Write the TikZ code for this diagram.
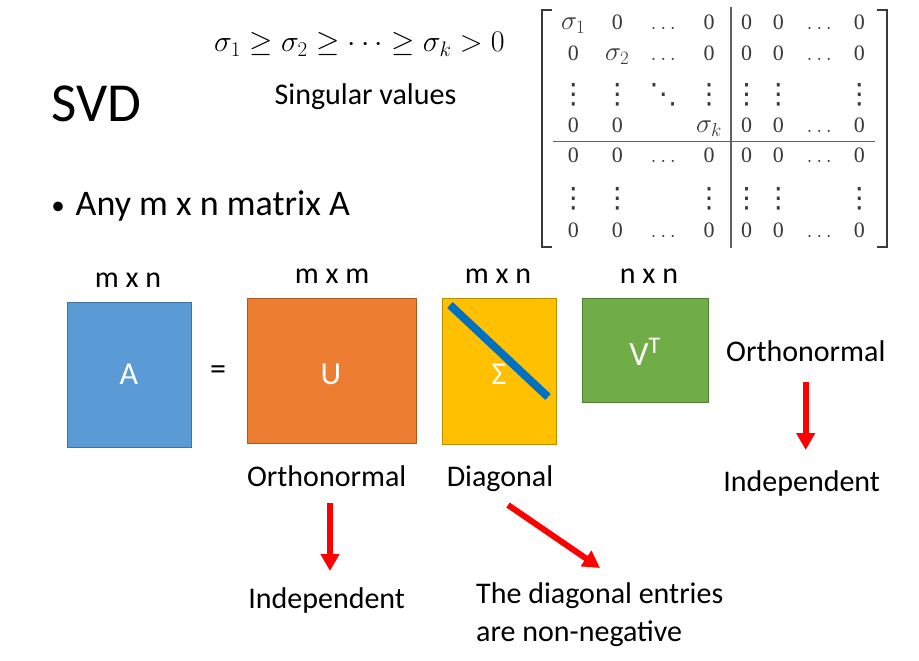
\RequirePackage{fix-cm}
\documentclass[tikz,border=0pt]{standalone}
\usepackage{fontspec}
\setmainfont{Carlito}
\newfontfamily\tms{Liberation Serif}
\newfontfamily\djv{DejaVu Sans}
\usetikzlibrary{arrows.meta}
\definecolor{aFill}{HTML}{5B9BD5}\definecolor{aDraw}{HTML}{41719C}
\definecolor{uFill}{HTML}{ED7D31}\definecolor{uDraw}{HTML}{AE5A21}
\definecolor{sFill}{HTML}{FFC000}\definecolor{sDraw}{HTML}{BC8C00}
\definecolor{vFill}{HTML}{70AD47}\definecolor{vDraw}{HTML}{507E32}
\definecolor{diagBlue}{HTML}{0070C0}
\definecolor{matGray}{HTML}{3A3A3A}
\newcommand\myvdots{{\djv\fontsize{28}{28}\selectfont ⋮}}
\newcommand\myddots{{\djv\fontsize{28}{28}\selectfont ⋱}}
\newcommand\sg[1]{{\fontsize{27}{27}\selectfont$\sigma_{#1}$}}
\newcommand\mrow[3]{%
  \foreach \e [count=\c] in {#3} {%
    \pgfmathsetmacro\xx{{573.3,617.3,663.3,709,746.7,778.3,819.3,859.3}[\c-1]}%
    \node[mat, anchor=base] (m#1-\c) at (\xx,#2) {\e};
  }}
\newcommand\vrow[3]{%
  \foreach \e [count=\c] in {#3} {%
    \pgfmathsetmacro\xx{{573.3,617.3,663.3,709,746.7,778.3,819.3,859.3}[\c-1]}%
    \node[mat, anchor=base] (m#1-\c) at (\xx,#2) {\e};
  }}
\begin{document}
\begin{tikzpicture}[x=1pt,y=-1pt,
  lbl/.style={font=\fontsize{30}{36}\selectfont, inner sep=0pt, anchor=base},
  mbox/.style={line width=1pt, inner sep=0pt},
  intext/.style={text=white, inner sep=0pt},
  redarrow/.style={draw=red, line width=6pt, -{Triangle[width=18pt,length=17pt]}},
  mat/.style={font=\tms\fontsize{22}{22}\selectfont, text=matGray, inner sep=0pt},
  bracket/.style={draw=matGray, line width=2pt},
  divider/.style={draw=matGray!80, line width=1.5pt}]
\fill[white] (0,0) rectangle (919,661);
\path[use as bounding box] (0,0) rectangle (919,661);

% title and bullet
\node[font=\fontsize{55}{60}\selectfont, inner sep=0pt, anchor=base west] (title) at (51.5,121.7) {SVD};
\node[font=\fontsize{27}{30}\selectfont, inner sep=0pt, anchor=base] (bullet) at (58,214) {•};
\node[font=\fontsize{36}{40}\selectfont, inner sep=0pt, anchor=base west] (anyA) at (75.5,215) {Any m x n matrix A};

% singular values
\node[font=\fontsize{30}{34}\selectfont, inner sep=0pt, anchor=base west] (ineq) at (214,52) {$\sigma_1\ge\sigma_2\ge\cdots\ge\sigma_k>0$};
\node[lbl] (singv) at (365.5,104) {Singular values};

% matrix
\mrow{1}{29.2}{\sg{1},0,$\ldots$,0,0,0,$\ldots$,0}
\mrow{2}{60.8}{0,\sg{2},$\ldots$,0,0,0,$\ldots$,0}
\vrow{3}{103}{\myvdots,\myvdots,\myddots,\myvdots,\myvdots,\myvdots,{},\myvdots}
\mrow{4}{132.5}{0,0,{},\sg{k},0,0,$\ldots$,0}
\mrow{5}{162.5}{0,0,$\ldots$,0,0,0,$\ldots$,0}
\vrow{6}{207}{\myvdots,\myvdots,{},\myvdots,\myvdots,\myvdots,{},\myvdots}
\mrow{7}{237.5}{0,0,$\ldots$,0,0,0,$\ldots$,0}
\coordinate (lbT) at (551.7,10);
\coordinate (lbB) at (551.7,246.7);
\coordinate (rbT) at (876.7,10);
\coordinate (rbB) at (876.7,246.7);
\draw[bracket] (lbT) -| (541.7,246.7) -- (lbB);
\draw[bracket] (rbT) -| (886.7,246.7) -- (rbB);
\coordinate (vdT) at (731,7);
\coordinate (vdB) at (731,248);
\coordinate (hdL) at (553,141.7);
\coordinate (hdR) at (875,141.7);
\draw[divider] (vdT) -- (vdB);
\draw[divider] (hdL) -- (hdR);

% size labels
\node[lbl] (dimA) at (128,287) {m x n};
\node[lbl] (dimU) at (332,283) {m x m};
\node[lbl] (dimS) at (498,283) {m x n};
\node[lbl] (dimV) at (649,283) {n x n};

% matrices
\node[mbox, draw=aDraw, fill=aFill, minimum width=124pt, minimum height=145pt] (A) at (129,374.5) {};
\node[intext, font=\fontsize{32}{32}\selectfont] (Atxt) at (A.center) {A};
\node[font=\fontsize{32}{32}\selectfont, inner sep=0pt] (eq) at (218,373) {=};
\node[mbox, draw=uDraw, fill=uFill, minimum width=169pt, minimum height=145pt] (U) at (331.5,370.5) {};
\node[intext, font=\fontsize{32}{32}\selectfont] (Utxt) at (331,374) {U};
\node[mbox, draw=sDraw, fill=sFill, minimum width=114pt, minimum height=146pt] (S) at (499,371) {};
\coordinate (dgA) at (450,305);
\coordinate (dgB) at (548,397);
\draw[diagBlue, line width=8pt] (dgA) -- (dgB);
\node[intext, font=\fontsize{32}{32}\selectfont] (Stxt) at (499,374) {Σ};
\node[mbox, draw=vDraw, fill=vFill, minimum width=126pt, minimum height=104pt] (V) at (645,350) {};
\node[intext, font=\fontsize{34}{34}\selectfont] (Vtxt) at (645,352) {V\textsuperscript{T}};

% descriptions
\node[lbl] (orthU) at (326.7,486.7) {Orthonormal};
\node[lbl] (diag) at (500,486.7) {Diagonal};
\node[lbl] (orthV) at (805.8,361.7) {Orthonormal};
\node[lbl] (indV) at (801.7,491.7) {Independent};
\node[lbl] (indU) at (326.7,608.3) {Independent};
\node[font=\fontsize{30}{38.4}\selectfont, inner sep=0pt, anchor=base west, align=left] (nonneg) at (476,641.7) {The diagonal entries\\are non-negative};

% arrows
\coordinate (a1s) at (330,503);
\coordinate (a1e) at (330,571);
\coordinate (a2s) at (508,505);
\coordinate (a2e) at (600,568);
\coordinate (a3s) at (805.7,382);
\coordinate (a3e) at (805.7,450);
\draw[redarrow] (a1s) -- (a1e);
\draw[redarrow] (a2s) -- (a2e);
\draw[redarrow] (a3s) -- (a3e);
\end{tikzpicture}
\end{document}
